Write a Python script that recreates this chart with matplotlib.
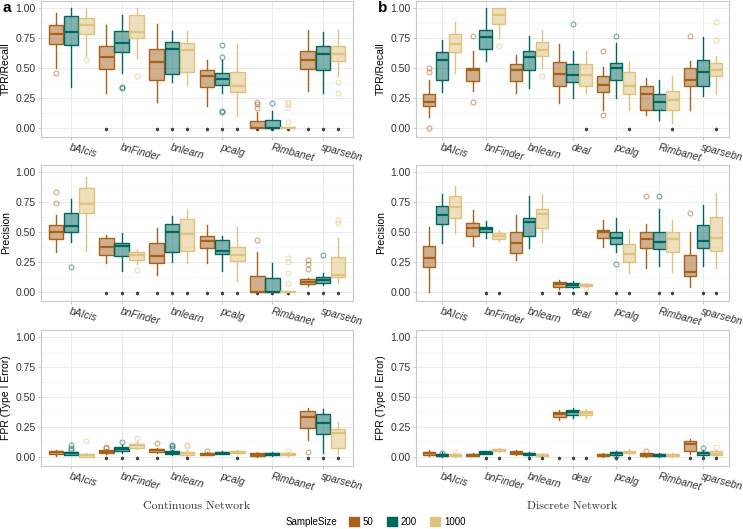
import matplotlib.pyplot as plt
import matplotlib.transforms as mtransforms
from matplotlib.colors import to_rgba
from matplotlib.patches import Patch
from matplotlib.ticker import MultipleLocator

plt.rcParams['font.family'] = ['Liberation Sans', 'DejaVu Sans']

sizes = ['50', '200', '1000']
colors = ['#A6611A', '#01665E', '#DFC27D']
cont_methods = ['bAIcis', 'bnFinder', 'bnlearn', 'pcalg', 'Rimbanet', 'sparsebn']
disc_methods = ['bAIcis', 'bnFinder', 'bnlearn', 'deal', 'pcalg', 'Rimbanet', 'sparsebn']

# each box: (whisker low, q1, median, q3, whisker high) for sample size 50, 200, 1000
cont_tpr = [
    [(0.50, 0.70, 0.78, 0.86, 0.96), (0.34, 0.69, 0.80, 0.93, 1.00), (0.60, 0.78, 0.86, 0.92, 1.00)],
    [(0.29, 0.49, 0.59, 0.68, 0.86), (0.46, 0.63, 0.71, 0.81, 0.94), (0.58, 0.75, 0.80, 0.94, 1.00)],
    [(0.22, 0.40, 0.55, 0.66, 0.87), (0.38, 0.45, 0.66, 0.72, 0.81), (0.36, 0.47, 0.65, 0.71, 0.81)],
    [(0.18, 0.34, 0.43, 0.48, 0.57), (0.29, 0.36, 0.41, 0.46, 0.57), (0.10, 0.30, 0.35, 0.47, 0.70)],
    [(0.0, 0.0, 0.0, 0.06, 0.13), (0.0, 0.0, 0.0, 0.065, 0.14), (0.0, 0.0, 0.0, 0.008, 0.008)],
    [(0.31, 0.49, 0.57, 0.64, 0.82), (0.29, 0.48, 0.62, 0.68, 0.80), (0.43, 0.56, 0.62, 0.68, 0.82)],
]
cont_tpr_out = [
    [[0.46], [], [0.57]],
    [[], [0.34, 0.33], [0.43]],
    [[], [], []],
    [[], [0.69, 0.59, 0.14, 0.13], []],
    [[0.22, 0.20, 0.17], [0.21], [0.22, 0.20, 0.17, 0.05]],
    [[], [], [0.38, 0.29]],
]
cont_tpr_star = [[0, 0, 0], [1, 0, 0], [1, 1, 1], [1, 1, 1], [1, 1, 1], [1, 1, 1]]

disc_tpr = [
    [(0.09, 0.18, 0.22, 0.285, 0.40), (0.30, 0.40, 0.57, 0.63, 0.73), (0.46, 0.63, 0.70, 0.78, 0.88)],
    [(0.31, 0.39, 0.48, 0.50, 0.64), (0.56, 0.66, 0.76, 0.82, 1.00), (0.75, 0.87, 0.94, 1.00, 1.00)],
    [(0.29, 0.39, 0.48, 0.53, 0.61), (0.335, 0.48, 0.59, 0.64, 0.77), (0.50, 0.60, 0.65, 0.72, 0.82)],
    [(0.21, 0.35, 0.45, 0.55, 0.70), (0.25, 0.385, 0.44, 0.535, 0.64), (0.29, 0.35, 0.44, 0.53, 0.645)],
    [(0.15, 0.30, 0.36, 0.43, 0.51), (0.25, 0.40, 0.50, 0.54, 0.71), (0.15, 0.285, 0.35, 0.465, 0.56)],
    [(0.11, 0.15, 0.285, 0.35, 0.42), (0.07, 0.15, 0.22, 0.28, 0.40), (0.04, 0.15, 0.23, 0.31, 0.43)],
    [(0.15, 0.35, 0.40, 0.50, 0.56), (0.27, 0.35, 0.47, 0.57, 0.76), (0.285, 0.43, 0.48, 0.54, 0.60)],
]
disc_tpr_out = [
    [[0.50, 0.47, 0.0], [], []],
    [[0.77, 0.22], [], [0.68]],
    [[], [], [0.43]],
    [[], [0.87], []],
    [[0.64, 0.11], [0.77], []],
    [[], [], []],
    [[0.77], [], [0.88, 0.73]],
]
disc_tpr_star = [[0, 0, 0], [0, 0, 0], [0, 0, 0], [0, 0, 1], [0, 0, 1], [0, 0, 1], [0, 0, 1]]

cont_prec = [
    [(0.335, 0.44, 0.50, 0.555, 0.645), (0.42, 0.50, 0.55, 0.655, 0.775), (0.34, 0.655, 0.735, 0.87, 0.96)],
    [(0.245, 0.31, 0.375, 0.45, 0.475), (0.175, 0.30, 0.38, 0.405, 0.49), (0.235, 0.27, 0.305, 0.33, 0.35)],
    [(0.14, 0.24, 0.30, 0.405, 0.535), (0.25, 0.33, 0.50, 0.57, 0.63), (0.245, 0.345, 0.485, 0.605, 0.68)],
    [(0.24, 0.37, 0.425, 0.47, 0.555), (0.175, 0.315, 0.345, 0.435, 0.47), (0.095, 0.26, 0.31, 0.375, 0.545)],
    [(0.0, 0.0, 0.0, 0.135, 0.33), (0.0, 0.0, 0.0, 0.115, 0.245), (0.0, 0.0, 0.0, 0.006, 0.006)],
    [(0.05, 0.066, 0.086, 0.105, 0.116), (0.061, 0.072, 0.10, 0.127, 0.155), (0.072, 0.122, 0.139, 0.288, 0.454)],
]
cont_prec_out = [
    [[0.83, 0.74], [0.21], []],
    [[], [], [0.18]],
    [[], [], []],
    [[], [], []],
    [[0.43], [], [0.28, 0.25, 0.155, 0.078]],
    [[0.265, 0.235, 0.19], [0.31], [0.60, 0.575]],
]
cont_prec_star = [[0, 0, 0], [1, 1, 1], [1, 1, 1], [1, 1, 1], [1, 1, 1], [1, 1, 1]]

disc_prec = [
    [(0.0, 0.21, 0.28, 0.38, 0.54), (0.41, 0.565, 0.64, 0.715, 0.815), (0.49, 0.62, 0.71, 0.80, 0.88)],
    [(0.38, 0.47, 0.535, 0.575, 0.68), (0.45, 0.50, 0.525, 0.545, 0.595), (0.425, 0.44, 0.47, 0.49, 0.52)],
    [(0.265, 0.325, 0.41, 0.50, 0.645), (0.37, 0.47, 0.58, 0.62, 0.80), (0.42, 0.53, 0.65, 0.69, 0.82)],
    [(0.028, 0.044, 0.066, 0.083, 0.10), (0.03, 0.044, 0.061, 0.078, 0.089), (0.044, 0.05, 0.061, 0.066, 0.078)],
    [(0.377, 0.446, 0.50, 0.52, 0.60), (0.33, 0.40, 0.45, 0.50, 0.62), (0.16, 0.247, 0.316, 0.396, 0.526)],
    [(0.20, 0.37, 0.438, 0.50, 0.57), (0.216, 0.357, 0.42, 0.50, 0.695), (0.17, 0.33, 0.443, 0.50, 0.60)],
    [(0.04, 0.136, 0.17, 0.305, 0.50), (0.22, 0.37, 0.427, 0.554, 0.723), (0.20, 0.338, 0.446, 0.626, 0.828)],
]
disc_prec_out = [
    [[], [], []],
    [[], [], []],
    [[], [], []],
    [[], [], [0.03]],
    [[], [0.233], []],
    [[0.80], [0.80], []],
    [[0.654], [], []],
]
disc_prec_star = [[0, 0, 0], [0, 1, 1], [0, 0, 1], [1, 1, 1], [0, 1, 1], [0, 1, 1], [0, 1, 1]]

cont_fpr = [
    [(0.011, 0.025, 0.039, 0.047, 0.06), (0.014, 0.019, 0.03, 0.042, 0.045), (0.0, 0.003, 0.017, 0.028, 0.036)],
    [(0.028, 0.033, 0.044, 0.055, 0.069), (0.033, 0.047, 0.066, 0.083, 0.10), (0.066, 0.078, 0.097, 0.111, 0.122)],
    [(0.033, 0.042, 0.058, 0.069, 0.078), (0.017, 0.025, 0.036, 0.047, 0.055), (0.011, 0.019, 0.033, 0.044, 0.061)],
    [(0.014, 0.017, 0.025, 0.033, 0.039), (0.025, 0.028, 0.036, 0.044, 0.047), (0.028, 0.033, 0.042, 0.05, 0.055)],
    [(0.0, 0.008, 0.019, 0.03, 0.039), (0.011, 0.017, 0.028, 0.036, 0.039), (0.011, 0.017, 0.025, 0.033, 0.044)],
    [(0.139, 0.244, 0.33, 0.38, 0.407), (0.033, 0.194, 0.283, 0.355, 0.402), (0.022, 0.072, 0.197, 0.235, 0.288)],
]
cont_fpr_out = [
    [[], [0.10, 0.078, 0.055], [0.133]],
    [[0.083, 0.072], [0.125], [0.155]],
    [[0.114], [0.10, 0.089, 0.075], [0.10, 0.089]],
    [[0.053], [], []],
    [[], [], [0.053]],
    [[0.039], [], []],
]
cont_fpr_star = [[0, 0, 0], [1, 1, 1], [1, 0, 1], [0, 0, 1], [0, 0, 0], [1, 1, 1]]

disc_fpr = [
    [(0.011, 0.014, 0.03, 0.044, 0.061), (0.0, 0.006, 0.017, 0.028, 0.039), (0.0, 0.006, 0.017, 0.025, 0.033)],
    [(0.006, 0.011, 0.019, 0.028, 0.033), (0.022, 0.028, 0.036, 0.047, 0.053), (0.039, 0.047, 0.055, 0.066, 0.075)],
    [(0.014, 0.022, 0.036, 0.047, 0.055), (0.006, 0.014, 0.025, 0.036, 0.042), (0.006, 0.011, 0.019, 0.028, 0.033)],
    [(0.305, 0.332, 0.355, 0.371, 0.393), (0.327, 0.349, 0.371, 0.388, 0.41), (0.321, 0.349, 0.366, 0.382, 0.402)],
    [(0.003, 0.008, 0.019, 0.028, 0.033), (0.011, 0.017, 0.03, 0.039, 0.047), (0.025, 0.033, 0.044, 0.053, 0.064)],
    [(0.0, 0.006, 0.019, 0.03, 0.036), (0.0, 0.006, 0.017, 0.028, 0.030), (0.0, 0.006, 0.017, 0.025, 0.030)],
    [(0.028, 0.05, 0.111, 0.133, 0.15), (0.008, 0.019, 0.03, 0.042, 0.055), (0.006, 0.014, 0.028, 0.047, 0.061)],
]
disc_fpr_out = [
    [[], [0.036], [0.044]],
    [[], [], []],
    [[], [], []],
    [[], [], []],
    [[], [0.012], []],
    [[0.047], [], []],
    [[], [0.078], [0.08]],
]
disc_fpr_star = [[0, 0, 0], [0, 1, 1], [0, 1, 1], [1, 1, 1], [0, 1, 1], [0, 0, 0], [1, 1, 1]]

panels = [
    [(cont_methods, cont_tpr, cont_tpr_out, cont_tpr_star, 'TPR/Recall'),
     (disc_methods, disc_tpr, disc_tpr_out, disc_tpr_star, 'TPR/Recall')],
    [(cont_methods, cont_prec, cont_prec_out, cont_prec_star, 'Precision'),
     (disc_methods, disc_prec, disc_prec_out, disc_prec_star, 'Precision')],
    [(cont_methods, cont_fpr, cont_fpr_out, cont_fpr_star, 'FPR (Type I Error)'),
     (disc_methods, disc_fpr, disc_fpr_out, disc_fpr_star, 'FPR (Type I Error)')],
]

W, H = 743, 529
fig = plt.figure(figsize=(W / 100, H / 100), dpi=100)

col_x = [(41, 353), (416, 729)]
row_y = [(1, 137), (165, 301), (330, 466)]
shift = mtransforms.ScaledTranslation(-0.04, 0, fig.dpi_scale_trans)

for r in range(3):
    for c in range(2):
        methods, stats, outs, stars, ylab = panels[r][c]
        x0, x1 = col_x[c]
        y0, y1 = row_y[r]
        ax = fig.add_axes([x0 / W, 1 - y1 / H, (x1 - x0) / W, (y1 - y0) / H])
        ax.set_axisbelow(True)
        for i in range(len(methods)):
            for j in range(3):
                lo, q1, med, q3, hi = stats[i][j]
                col = colors[j]
                pos = i + 1 + (j - 1) * 0.3
                ax.bxp([{'whislo': lo, 'q1': q1, 'med': med, 'q3': q3, 'whishi': hi,
                         'fliers': outs[i][j]}],
                       positions=[pos], widths=0.29, patch_artist=True, showcaps=False,
                       boxprops=dict(facecolor=to_rgba(col, 0.5), edgecolor=col, linewidth=1.0),
                       medianprops=dict(color=col, linewidth=1.6),
                       whiskerprops=dict(color=col, linewidth=1.0),
                       flierprops=dict(marker='o', markerfacecolor='none',
                                       markeredgecolor=to_rgba(col, 0.55),
                                       markersize=3.5, markeredgewidth=0.8))
                if stars[i][j]:
                    ax.plot(pos, -0.012, marker=(6, 2, 0), markersize=2.6,
                            color='#444444', markeredgewidth=0.45)
        ax.set_xlim(0.4, len(methods) + 0.6)
        ax.set_ylim(-0.075, 1.058)
        ax.set_xticks(range(1, len(methods) + 1))
        ax.set_xticklabels(methods, fontsize=7.5, style='italic', color='#333333')
        for lab in ax.get_xticklabels():
            lab.set_rotation(-15)
            lab.set_ha('left')
            lab.set_va('top')
            lab.set_rotation_mode('anchor')
            lab.set_transform(lab.get_transform() + shift)
        ax.set_yticks([0, 0.25, 0.5, 0.75, 1.0])
        ax.set_yticklabels(['0.00', '0.25', '0.50', '0.75', '1.00'], fontsize=7.5, color='#333333')
        ax.yaxis.set_minor_locator(MultipleLocator(0.125))
        ax.tick_params(which='major', length=2.5, width=0.5, color='#B3B3B3', pad=1.5)
        ax.tick_params(which='minor', length=0)
        ax.grid(which='major', color='#EBEBEB', linewidth=0.7)
        ax.grid(which='minor', axis='y', color='#F4F4F4', linewidth=0.5)
        for s in ax.spines.values():
            s.set_color('#C8C8C8')
            s.set_linewidth(0.8)
        ax.set_ylabel(ylab, fontsize=7.5, labelpad=3)

fig.text(0.004, 0.985, 'a', fontsize=11, fontweight='bold', va='center', ha='left')
fig.text(378 / W, 0.985, 'b', fontsize=11, fontweight='bold', va='center', ha='left')

fig.text(197 / W, 1 - 506 / H, 'Continuous Network', family='cmr10', fontsize=8.5,
         ha='center', va='center', color='#333333')
fig.text(572 / W, 1 - 506 / H, 'Discrete Network', family='cmr10', fontsize=8.5,
         ha='center', va='center', color='#333333')

fig.text(286 / W, 1 - 522 / H, 'SampleSize', fontsize=7, ha='left', va='center')
handles = [Patch(facecolor=col, edgecolor=col) for col in colors]
fig.legend(handles, sizes, ncol=3, loc='center left', bbox_to_anchor=(349 / W, 1 - 522 / H),
           frameon=False, fontsize=7, handlelength=1.0, handleheight=1.0,
           handletextpad=0.4, columnspacing=1.4, borderpad=0, borderaxespad=0)

fig.savefig('out.png', dpi=100)
